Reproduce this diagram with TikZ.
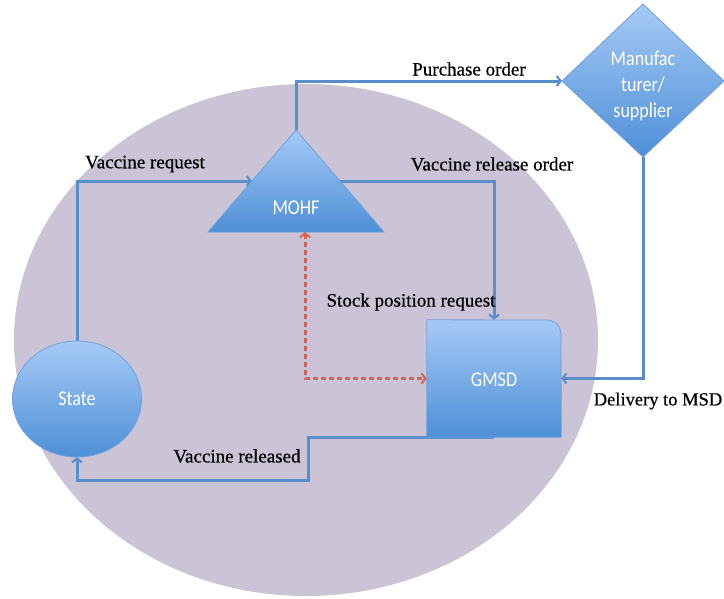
\documentclass[tikz,border=0pt]{standalone}
\usepackage{fontspec}
\newfontfamily\lblfont[FakeBold=0.6]{Liberation Serif}
\newfontfamily\boxfont[FakeStretch=0.86]{Carlito}
\usetikzlibrary{shapes.geometric,arrows.meta}
\definecolor{bgellipse}{RGB}{203,195,214}
\definecolor{shapetop}{RGB}{166,202,247}
\definecolor{shapebot}{RGB}{78,143,214}
\definecolor{shapeedge}{RGB}{110,160,220}
\definecolor{flowblue}{RGB}{88,142,204}
\definecolor{flowred}{RGB}{214,98,88}
\tikzset{
  flow/.style={draw=flowblue, line width=3pt, -{Straight Barb[length=4pt,width=10pt,line width=2pt]}},
  stockflow/.style={draw=flowred, line width=3pt, dash pattern=on 5pt off 3pt,
     {Straight Barb[length=4pt,width=10pt,line width=2pt]}-{Straight Barb[length=4pt,width=10pt,line width=2pt]}},
  blueshape/.style={top color=shapetop, bottom color=shapebot, draw=shapeedge, line width=0.8pt},
  boxtext/.style={text=white, font=\boxfont\fontsize{21}{26}\selectfont, align=center, inner sep=0pt},
  flowlabel/.style={text=black, font=\lblfont\fontsize{19}{22}\selectfont, inner sep=0pt}
}
\begin{document}
\begin{tikzpicture}[x=1pt,y=-1pt]
\useasboundingbox (0,0) rectangle (724,598);
% background ellipse
\fill[bgellipse] (306,340) ellipse [x radius=292, y radius=256];

% named anchor points of shapes drawn as paths
\coordinate (mohfApex) at (296,130);
\coordinate (mohfLeft) at (208,232);
\coordinate (mohfRight) at (384,232);
\coordinate (mohfInL) at (252,181);
\coordinate (mohfInR) at (340,181);
\coordinate (mohfBase) at (305,232);
\coordinate (dmTop) at (643,4);
\coordinate (dmLeft) at (562,81);
\coordinate (dmRight) at (724,81);
\coordinate (dmBot) at (643,157);
\coordinate (relBend) at (308,480);

% placeholders for node geometry
\node[ellipse, minimum width=129pt, minimum height=116pt, inner sep=0pt] (state) at (77,399) {};
\node[rectangle, minimum width=134pt, minimum height=117pt, inner sep=0pt] (gmsd) at (494,378.5) {};

% connectors
\draw[flow] (state.north) |- (mohfInL);
\draw[flow] (mohfInR) -| (gmsd.north);
\draw[flow] (mohfApex) |- (dmLeft);
\draw[flow] (dmBot) |- (gmsd.east);
\draw[flow] (gmsd.south) -| (relBend) -| (state.south);

% shapes
\shade[blueshape] (mohfApex) -- (mohfRight) -- (mohfLeft) -- cycle;
\shade[blueshape] (dmTop) -- (dmRight) -- (dmBot) -- (dmLeft) -- cycle;
\shade[blueshape] (gmsd.south west) -- (gmsd.north west) -- (546,320)
   .. controls (555,320) and (561,326) .. (561,335) -- (gmsd.south east) -- cycle;
\node[ellipse, blueshape, minimum width=129pt, minimum height=116pt, inner sep=0pt] (stateshape) at (state.center) {};

% dashed stock position request
\draw[stockflow] (mohfBase) |- (gmsd.west);

% texts
\node[boxtext] (statetext) at (state.center) {State};
\node[boxtext] (mohftext) at (296,208) {MOHF};
\node[boxtext] (gmsdtext) at (494,380) {GMSD};
\node[boxtext] (mantext) at (643,86) {Manufac\\turer/\\supplier};

\node[flowlabel] (lblreq) at (145,164) {Vaccine request};
\node[flowlabel] (lblrel) at (492,164) {Vaccine release order};
\node[flowlabel] (lblpur) at (469,69) {Purchase order};
\node[flowlabel] (lblstock) at (411,302) {Stock position request};
\node[flowlabel, font=\lblfont\fontsize{18.5}{22}\selectfont] (lbldel) at (658,401) {Delivery to MSD};
\node[flowlabel] (lblreleased) at (237,456) {Vaccine released};
\end{tikzpicture}
\end{document}
